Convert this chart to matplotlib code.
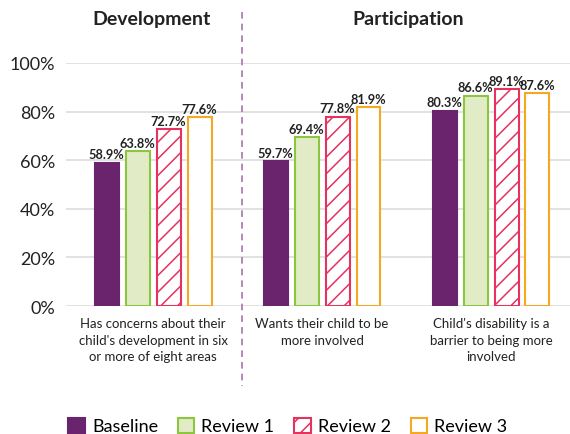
import matplotlib
matplotlib.use("Agg")
import matplotlib.pyplot as plt
from matplotlib.lines import Line2D
from matplotlib.patches import Patch
import numpy as np

plt.rcParams['font.family'] = ['Lato', 'DejaVu Sans']
plt.rcParams['hatch.linewidth'] = 1.1

categories = ["Has concerns about their\nchild's development in six\nor more of eight areas",
              "Wants their child to be\nmore involved",
              "Child's disability is a\nbarrier to being more\ninvolved"]
series = ["Baseline", "Review 1", "Review 2", "Review 3"]
baseline = [58.9, 59.7, 80.3]
review1 = [63.8, 69.4, 86.6]
review2 = [72.7, 77.8, 89.1]
review3 = [77.6, 81.9, 87.6]
yticks = [0, 20, 40, 60, 80, 100]
ytick_labels = ["0%", "20%", "40%", "60%", "80%", "100%"]
section_titles = ["Development", "Participation"]

values = [baseline, review1, review2, review3]
styles = [
    dict(facecolor="#6a246e", edgecolor="#6a246e", hatch=None),
    dict(facecolor="#e1ecc6", edgecolor="#8cc63e", hatch=None),
    dict(facecolor="white", edgecolor="#e6325f", hatch="//"),
    dict(facecolor="white", edgecolor="#f6a823", hatch=None),
]

fig = plt.figure(figsize=(5.7, 4.35), dpi=100)
ax = fig.add_axes([0.116, 0.294, 0.884, 0.559])

x = np.arange(len(categories))
step = 0.183
width = 0.142
for i, (vals, st) in enumerate(zip(values, styles)):
    pos = x + (i - 1.5) * step
    bars = ax.bar(pos, vals, width, facecolor=st["facecolor"], edgecolor=st["edgecolor"],
                  hatch=st["hatch"], linewidth=1.5, zorder=3, label=series[i])
    for b, v in zip(bars, vals):
        ax.text(b.get_x() + b.get_width() / 2, v + 1, f"{v:.1f}%", ha="center", va="bottom",
                fontsize=9.2, fontweight="bold", color="#222222", zorder=4, clip_on=False)

ax.set_xlim(-0.515, 2.467)
ax.set_ylim(0, 100)
ax.set_yticks(yticks)
ax.set_yticklabels(ytick_labels, fontsize=13, color="#222222")
ax.set_xticks(x)
ax.set_xticklabels(categories, fontsize=9.5, color="#222222", linespacing=1.45)
ax.tick_params(axis="both", length=0)
ax.tick_params(axis="x", pad=8)
ax.tick_params(axis="y", pad=8)
for s in ax.spines.values():
    s.set_visible(False)
ax.yaxis.grid(True, color="#dddddd", linewidth=1.2, zorder=0)
ax.set_axisbelow(True)

fig.text(152 / 570, 1 - 20 / 435, section_titles[0], ha="center", va="center",
         fontsize=14, fontweight="bold", color="#222222")
fig.text(408 / 570, 1 - 20 / 435, section_titles[1], ha="center", va="center",
         fontsize=14, fontweight="bold", color="#222222")
fig.add_artist(Line2D([242 / 570, 242 / 570], [1 - 13 / 435, 1 - 387 / 435],
                      transform=fig.transFigure, color="#a477a8", linestyle=(0, (4, 3)),
                      linewidth=1.2))

handles = [Patch(facecolor=st["facecolor"], edgecolor=st["edgecolor"], hatch=st["hatch"],
                 linewidth=1.5) for st in styles]
fig.legend(handles, series, loc="center", bbox_to_anchor=(0.505, 1 - 427 / 435), ncol=4,
           frameon=False, fontsize=13, handlelength=0.9, handleheight=0.9,
           handletextpad=0.4, columnspacing=1.1)

fig.savefig("out.png", dpi=100)
